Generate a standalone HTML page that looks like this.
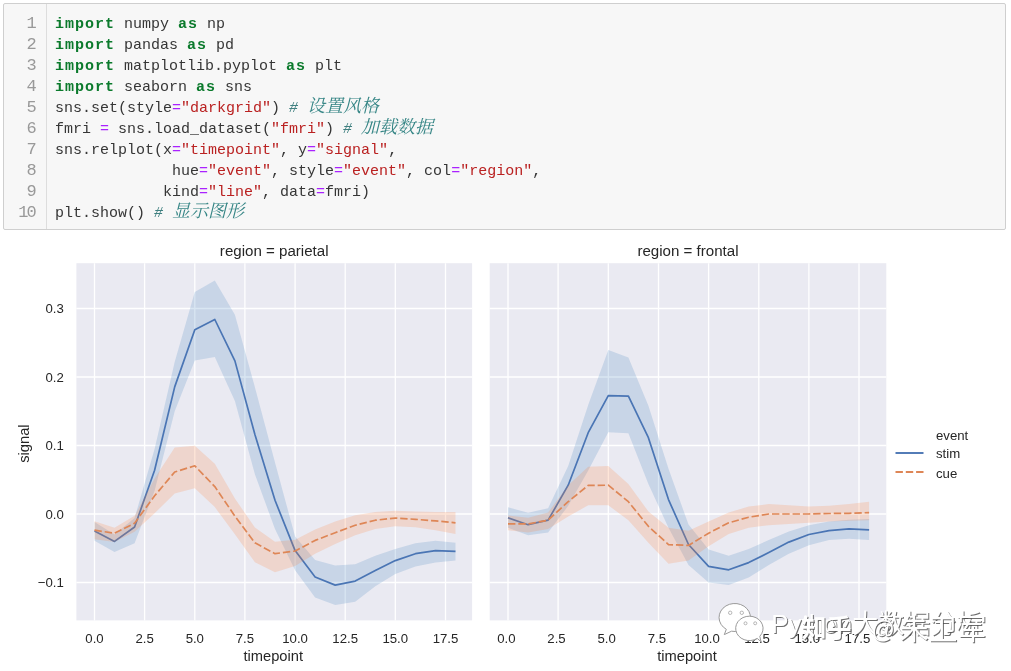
<!DOCTYPE html>
<html lang="zh">
<head>
<meta charset="utf-8">
<title>seaborn relplot</title>
<style>
html,body{margin:0;padding:0;background:#fff}
body{width:1011px;height:671px;position:relative;overflow:hidden}
.cell{position:absolute;left:3px;top:3px;width:1001px;height:225px;border:1px solid #cfcfcf;background:#f7f7f7;border-radius:2px}
.gut{position:absolute;left:0;top:0;width:42px;height:225px;border-right:1px solid #ddd}
.nums{position:absolute;left:0;top:9px;width:30.6px;text-align:right;color:#999;font-size:17px !important;letter-spacing:-2px}
.code{position:absolute;left:51px;top:10px;color:#363636}
.code div{white-space:pre}
.nums,.code{font:15px/21px "Liberation Mono","Noto Sans CJK SC",monospace}
.nums div,.code div{height:21px}
.k{color:#0b7a2c;font-weight:bold;letter-spacing:1px}
.o{color:#aa22ff}
.s{color:#ba2121}
.c{color:#408080;font-style:italic}
.z{color:#358585;font-family:"Noto Serif CJK SC","Noto Sans CJK SC",serif;font-size:18px;line-height:0}
</style>
</head>
<body>
<div class="cell">
<div class="gut"></div>
<div class="nums">
<div>1</div>
<div>2</div>
<div>3</div>
<div>4</div>
<div>5</div>
<div>6</div>
<div>7</div>
<div>8</div>
<div>9</div>
<div>10</div>
</div>
<div class="code">
<div><b class="k">import</b> numpy <b class="k">as</b> np</div>
<div><b class="k">import</b> pandas <b class="k">as</b> pd</div>
<div><b class="k">import</b> matplotlib.pyplot <b class="k">as</b> plt</div>
<div><b class="k">import</b> seaborn <b class="k">as</b> sns</div>
<div>sns.set(style<span class="o">=</span><span class="s">&quot;darkgrid&quot;</span>) <i class="c"># <span class=z>设置风格</span></i></div>
<div>fmri <span class="o">=</span> sns.load_dataset(<span class="s">&quot;fmri&quot;</span>) <i class="c"># <span class=z>加载数据</span></i></div>
<div>sns.relplot(x<span class="o">=</span><span class="s">&quot;timepoint&quot;</span>, y<span class="o">=</span><span class="s">&quot;signal&quot;</span>,</div>
<div>             hue<span class="o">=</span><span class="s">&quot;event&quot;</span>, style<span class="o">=</span><span class="s">&quot;event&quot;</span>, col<span class="o">=</span><span class="s">&quot;region&quot;</span>,</div>
<div>            kind<span class="o">=</span><span class="s">&quot;line&quot;</span>, data<span class="o">=</span>fmri)</div>
<div>plt.show() <i class="c"># <span class=z>显示图形</span></i></div>
</div>
</div>
<svg width="1011" height="671" viewBox="0 0 1011 671" style="position:absolute;left:0;top:0">
<style>.tk{font:13.2px "Liberation Sans",Arial,sans-serif;fill:#262626}.lb{font:14.7px "Liberation Sans",Arial,sans-serif;fill:#262626}.tt{font:15.1px "Liberation Sans",Arial,sans-serif;fill:#262626}</style>
<rect x="76.4" y="263.2" width="395.7" height="357.2" fill="#eaeaf2"/>
<line x1="94.5" y1="263.2" x2="94.5" y2="620.4" stroke="#fff" stroke-width="1.3"/>
<text x="94.5" y="643.2" text-anchor="middle" class="tk">0.0</text>
<line x1="144.6" y1="263.2" x2="144.6" y2="620.4" stroke="#fff" stroke-width="1.3"/>
<text x="144.6" y="643.2" text-anchor="middle" class="tk">2.5</text>
<line x1="194.8" y1="263.2" x2="194.8" y2="620.4" stroke="#fff" stroke-width="1.3"/>
<text x="194.8" y="643.2" text-anchor="middle" class="tk">5.0</text>
<line x1="244.9" y1="263.2" x2="244.9" y2="620.4" stroke="#fff" stroke-width="1.3"/>
<text x="244.9" y="643.2" text-anchor="middle" class="tk">7.5</text>
<line x1="295.1" y1="263.2" x2="295.1" y2="620.4" stroke="#fff" stroke-width="1.3"/>
<text x="295.1" y="643.2" text-anchor="middle" class="tk">10.0</text>
<line x1="345.2" y1="263.2" x2="345.2" y2="620.4" stroke="#fff" stroke-width="1.3"/>
<text x="345.2" y="643.2" text-anchor="middle" class="tk">12.5</text>
<line x1="395.3" y1="263.2" x2="395.3" y2="620.4" stroke="#fff" stroke-width="1.3"/>
<text x="395.3" y="643.2" text-anchor="middle" class="tk">15.0</text>
<line x1="445.5" y1="263.2" x2="445.5" y2="620.4" stroke="#fff" stroke-width="1.3"/>
<text x="445.5" y="643.2" text-anchor="middle" class="tk">17.5</text>
<line x1="76.4" y1="582.5" x2="472.1" y2="582.5" stroke="#fff" stroke-width="1.3"/>
<text x="63.8" y="587.0" text-anchor="end" class="tk">−0.1</text>
<line x1="76.4" y1="514.0" x2="472.1" y2="514.0" stroke="#fff" stroke-width="1.3"/>
<text x="63.8" y="518.5" text-anchor="end" class="tk">0.0</text>
<line x1="76.4" y1="445.5" x2="472.1" y2="445.5" stroke="#fff" stroke-width="1.3"/>
<text x="63.8" y="450.0" text-anchor="end" class="tk">0.1</text>
<line x1="76.4" y1="377.0" x2="472.1" y2="377.0" stroke="#fff" stroke-width="1.3"/>
<text x="63.8" y="381.5" text-anchor="end" class="tk">0.2</text>
<line x1="76.4" y1="308.5" x2="472.1" y2="308.5" stroke="#fff" stroke-width="1.3"/>
<text x="63.8" y="313.0" text-anchor="end" class="tk">0.3</text>
<polygon points="94.5,522.0 114.5,534.5 134.6,518.1 154.6,448.9 174.7,361.9 194.8,292.1 214.8,280.4 234.9,314.7 254.9,387.3 275.0,462.6 295.1,536.6 315.1,559.9 335.2,565.4 355.2,564.3 375.3,555.8 395.3,548.9 415.4,543.2 435.5,540.7 455.5,542.8 455.5,560.6 435.5,562.6 415.4,566.4 395.3,573.9 375.3,586.3 355.2,601.7 335.2,605.1 315.1,597.6 295.1,570.2 275.0,529.1 254.9,474.3 234.9,401.0 214.8,357.1 194.8,360.6 174.7,411.2 154.6,490.7 134.6,543.2 114.5,552.0 94.5,540.7" fill="#4082c0" fill-opacity="0.2"/>
<polyline points="94.5,531.1 114.5,541.4 134.6,527.0 154.6,470.2 174.7,386.9 194.8,329.7 214.8,319.5 234.9,360.9 254.9,434.5 275.0,500.3 295.1,550.6 315.1,577.0 335.2,585.1 355.2,581.1 375.3,570.6 395.3,560.6 415.4,553.7 435.5,550.6 455.5,551.4" fill="none" stroke="#4a75b4" stroke-width="1.7" stroke-linejoin="round" stroke-linecap="butt"/>
<polygon points="94.5,521.3 114.5,527.7 134.6,515.8 154.6,478.4 174.7,447.6 194.8,445.8 214.8,463.7 234.9,498.6 254.9,527.4 275.0,541.7 295.1,539.7 315.1,529.4 335.2,521.5 355.2,515.2 375.3,511.9 395.3,510.8 415.4,511.5 435.5,511.9 455.5,511.9 455.5,533.9 435.5,530.2 415.4,527.2 395.3,526.3 375.3,529.1 355.2,535.2 335.2,543.9 315.1,553.7 295.1,566.1 275.0,572.2 254.9,562.3 234.9,534.2 214.8,507.1 194.8,488.2 174.7,493.4 154.6,513.3 134.6,531.8 114.5,542.1 94.5,539.3" fill="#ff823c" fill-opacity="0.2"/>
<polyline points="94.5,530.2 114.5,533.2 134.6,523.2 154.6,495.8 174.7,472.0 194.8,465.8 214.8,486.6 234.9,516.1 254.9,542.8 275.0,553.7 295.1,551.0 315.1,540.4 335.2,532.7 355.2,525.2 375.3,520.2 395.3,518.1 415.4,519.3 435.5,520.9 455.5,522.8" fill="none" stroke="#de8656" stroke-width="1.7" stroke-linejoin="round" stroke-linecap="butt" stroke-dasharray="7.4 2.9"/>
<text x="274.2" y="255.6" text-anchor="middle" class="tt">region = parietal</text>
<text x="273.2" y="660.8" text-anchor="middle" class="lb">timepoint</text>
<rect x="489.7" y="263.2" width="396.6" height="357.2" fill="#eaeaf2"/>
<line x1="508.0" y1="263.2" x2="508.0" y2="620.4" stroke="#fff" stroke-width="1.3"/>
<text x="506.4" y="643.2" text-anchor="middle" class="tk">0.0</text>
<line x1="558.1" y1="263.2" x2="558.1" y2="620.4" stroke="#fff" stroke-width="1.3"/>
<text x="556.5" y="643.2" text-anchor="middle" class="tk">2.5</text>
<line x1="608.3" y1="263.2" x2="608.3" y2="620.4" stroke="#fff" stroke-width="1.3"/>
<text x="606.7" y="643.2" text-anchor="middle" class="tk">5.0</text>
<line x1="658.5" y1="263.2" x2="658.5" y2="620.4" stroke="#fff" stroke-width="1.3"/>
<text x="656.9" y="643.2" text-anchor="middle" class="tk">7.5</text>
<line x1="708.6" y1="263.2" x2="708.6" y2="620.4" stroke="#fff" stroke-width="1.3"/>
<text x="707.0" y="643.2" text-anchor="middle" class="tk">10.0</text>
<line x1="758.8" y1="263.2" x2="758.8" y2="620.4" stroke="#fff" stroke-width="1.3"/>
<text x="757.1" y="643.2" text-anchor="middle" class="tk">12.5</text>
<line x1="808.9" y1="263.2" x2="808.9" y2="620.4" stroke="#fff" stroke-width="1.3"/>
<text x="807.3" y="643.2" text-anchor="middle" class="tk">15.0</text>
<line x1="859.0" y1="263.2" x2="859.0" y2="620.4" stroke="#fff" stroke-width="1.3"/>
<text x="857.4" y="643.2" text-anchor="middle" class="tk">17.5</text>
<line x1="489.7" y1="582.5" x2="886.3" y2="582.5" stroke="#fff" stroke-width="1.3"/>
<line x1="489.7" y1="514.0" x2="886.3" y2="514.0" stroke="#fff" stroke-width="1.3"/>
<line x1="489.7" y1="445.5" x2="886.3" y2="445.5" stroke="#fff" stroke-width="1.3"/>
<line x1="489.7" y1="377.0" x2="886.3" y2="377.0" stroke="#fff" stroke-width="1.3"/>
<line x1="489.7" y1="308.5" x2="886.3" y2="308.5" stroke="#fff" stroke-width="1.3"/>
<polygon points="508.0,507.3 528.1,512.8 548.1,508.2 568.2,466.1 588.2,405.1 608.3,349.9 628.4,357.4 648.4,405.8 668.5,468.8 688.5,524.6 708.6,549.6 728.7,555.8 748.7,548.9 768.8,540.0 788.8,531.5 808.9,525.2 829.0,521.5 849.0,519.8 869.1,519.0 869.1,540.0 849.0,538.7 829.0,540.0 808.9,545.2 788.8,553.7 768.8,565.0 748.7,577.5 728.7,585.0 708.6,582.5 688.5,565.0 668.5,527.7 648.4,484.1 628.4,433.2 608.3,432.2 588.2,470.4 568.2,505.8 548.1,532.5 528.1,535.2 508.0,527.7" fill="#4082c0" fill-opacity="0.2"/>
<polyline points="508.0,517.8 528.1,524.7 548.1,520.2 568.2,485.2 588.2,432.7 608.3,395.6 628.4,396.2 648.4,437.7 668.5,499.6 688.5,544.5 708.6,566.3 728.7,569.8 748.7,562.6 768.8,552.6 788.8,542.1 808.9,534.5 829.0,530.7 849.0,528.9 869.1,529.8" fill="none" stroke="#4a75b4" stroke-width="1.7" stroke-linejoin="round" stroke-linecap="butt"/>
<polygon points="508.0,515.4 528.1,517.8 548.1,512.6 568.2,485.2 588.2,466.7 608.3,466.1 628.4,484.1 648.4,511.5 668.5,527.7 688.5,530.8 708.6,521.5 728.7,512.6 748.7,506.5 768.8,504.1 788.8,505.3 808.9,506.5 829.0,505.8 849.0,504.1 869.1,501.7 869.1,520.2 849.0,520.7 829.0,521.5 808.9,522.7 788.8,523.9 768.8,525.2 748.7,527.7 728.7,533.9 708.6,546.2 688.5,560.6 668.5,563.8 648.4,542.8 628.4,520.2 608.3,505.3 588.2,505.3 568.2,516.5 548.1,529.1 528.1,532.5 508.0,530.2" fill="#ff823c" fill-opacity="0.2"/>
<polyline points="508.0,523.9 528.1,523.9 548.1,520.2 568.2,501.7 588.2,485.4 608.3,485.2 628.4,501.7 648.4,526.3 668.5,544.6 688.5,545.4 708.6,533.2 728.7,522.8 748.7,517.2 768.8,514.0 788.8,514.0 808.9,514.0 829.0,513.5 849.0,513.3 869.1,512.6" fill="none" stroke="#de8656" stroke-width="1.7" stroke-linejoin="round" stroke-linecap="butt" stroke-dasharray="7.4 2.9"/>
<text x="688.0" y="255.6" text-anchor="middle" class="tt">region = frontal</text>
<text x="687.0" y="660.8" text-anchor="middle" class="lb">timepoint</text>
<text transform="translate(29.3,443.6) rotate(-90)" text-anchor="middle" class="lb">signal</text>
<text x="936" y="439.5" class="tk">event</text>
<line x1="895.5" y1="453" x2="923.5" y2="453" stroke="#4a75b4" stroke-width="1.9"/>
<text x="936" y="457.6" class="tk">stim</text>
<line x1="895.5" y1="472" x2="923.5" y2="472" stroke="#de8656" stroke-width="1.9" stroke-dasharray="7.4 2.9"/>
<text x="936" y="477.6" class="tk">cue</text>
</svg>
<svg width="1011" height="671" viewBox="0 0 1011 671" style="position:absolute;left:0;top:0"><g fill="#fff" stroke="#9a9a9a" stroke-width="1" stroke-linejoin="round"><path d="M726.300 629.300L724.300 634.600L731.500 631.200A15.700 14 0 1 0 726.300 629.300Z"/><path d="M757.200 638.400L761 641.600L759.800 636.300A13.700 12.200 0 1 0 757.200 638.400Z"/></g><g fill="#fff" stroke="#a4a4a4" stroke-width=".8"><circle cx="730.200" cy="612.800" r="1.700"/><circle cx="741.800" cy="612.800" r="1.700"/><circle cx="745.500" cy="623.300" r="1.500"/><circle cx="755.200" cy="623.300" r="1.500"/></g>
<text x="772.2" y="634" fill="#4a4a4a" fill-opacity=".8" font-family='"Liberation Sans","Noto Sans CJK SC",sans-serif' font-size="26" font-weight="normal">Python大数据分析</text><text x="771.2" y="633" fill="#fff" font-family='"Liberation Sans","Noto Sans CJK SC",sans-serif' font-size="26" font-weight="normal">Python大数据分析</text>
<text x="802.5" y="637.5" fill="#4a4a4a" fill-opacity=".8" font-family='"Liberation Sans","Noto Sans CJK SC",sans-serif' font-size="25" font-weight="bold">知乎</text><text x="801.5" y="636.5" fill="#fff" font-family='"Liberation Sans","Noto Sans CJK SC",sans-serif' font-size="25" font-weight="bold">知乎</text>
<text x="872.5" y="638.5" fill="#4a4a4a" fill-opacity=".8" font-family='"Liberation Sans","Noto Sans CJK SC",sans-serif' font-size="23" font-weight="normal">@</text><text x="871.5" y="637.5" fill="#fff" font-family='"Liberation Sans","Noto Sans CJK SC",sans-serif' font-size="23" font-weight="normal">@</text>
<text x="900.5" y="641" fill="#4a4a4a" fill-opacity=".8" font-family='"Liberation Sans","Noto Sans CJK SC",sans-serif' font-size="29" font-weight="normal">朱卫军</text><text x="899.5" y="640" fill="#fff" font-family='"Liberation Sans","Noto Sans CJK SC",sans-serif' font-size="29" font-weight="normal">朱卫军</text></svg>
</body>
</html>
